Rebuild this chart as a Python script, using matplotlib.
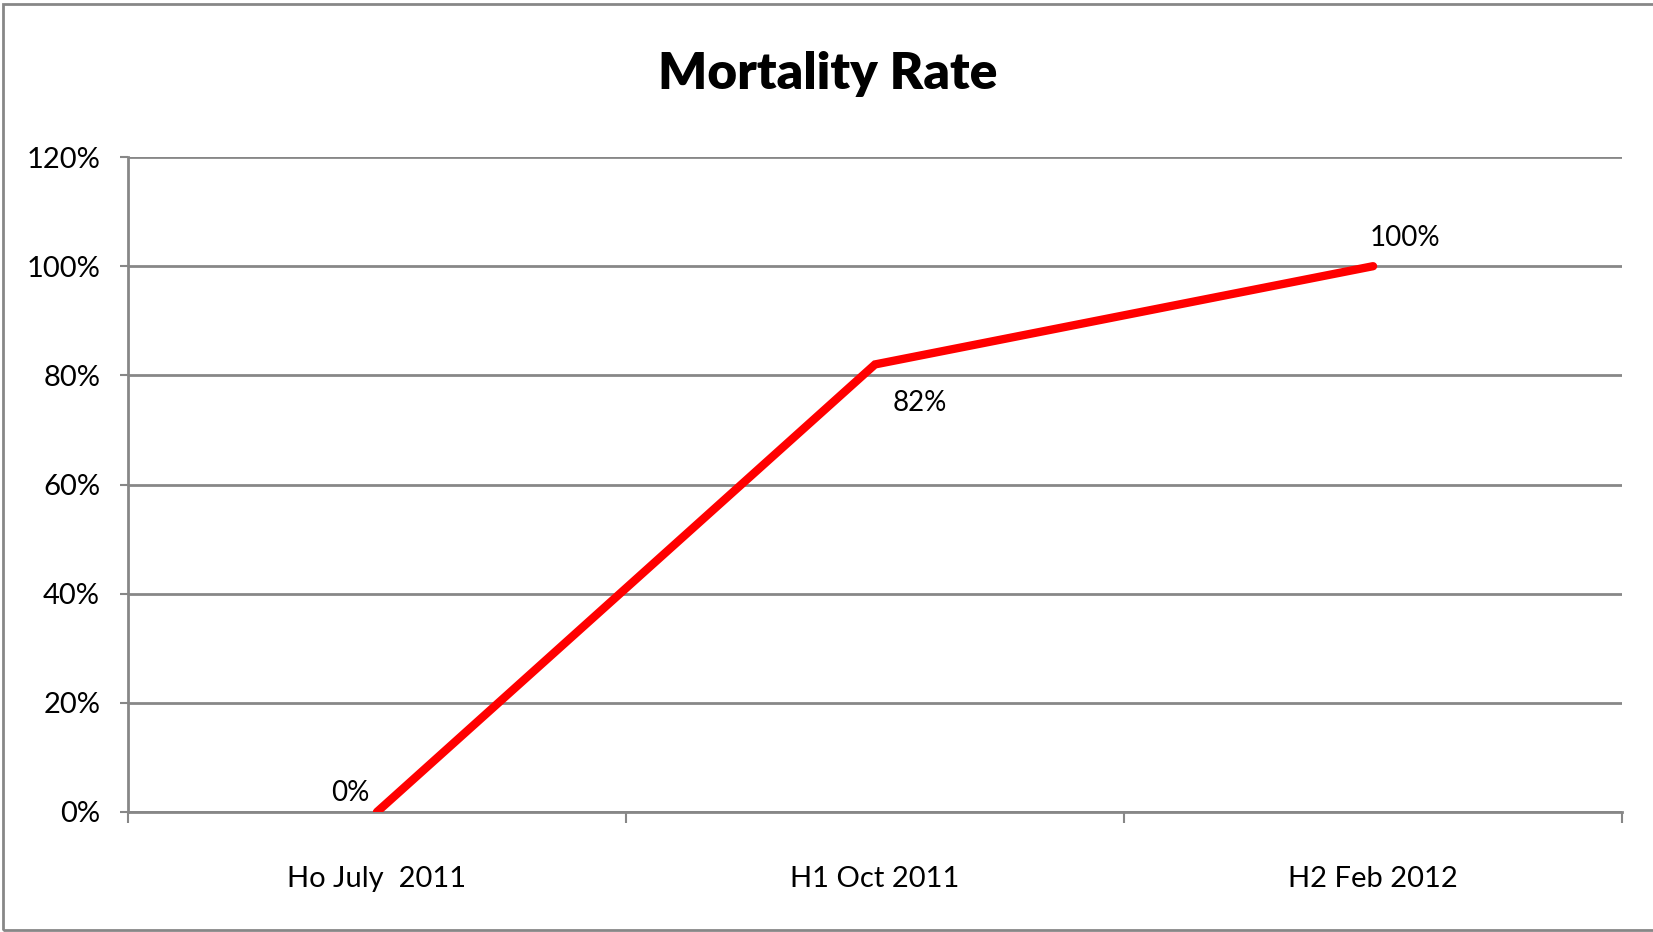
import matplotlib.pyplot as plt
from matplotlib.patches import Rectangle
from matplotlib.ticker import FixedLocator, FuncFormatter

categories = ["Ho July  2011", "H1 Oct 2011", "H2 Feb 2012"]
mortality = [0, 82, 100]
label_offsets = [(-19, 14), (32, -28), (23, 20)]  # points, per data label
yticks = [0, 20, 40, 60, 80, 100, 120]

plt.rcParams['font.family'] = ['Lato', 'DejaVu Sans']
grey = "#878787"

fig = plt.figure(figsize=(16.53, 9.32), dpi=100)
ax = fig.add_axes([0.0774, 0.1288, 0.9039, 0.7027])

xs = [i + 0.5 for i in range(len(categories))]
ax.plot(xs, mortality, color="#ff0000", lw=6, solid_capstyle="round",
        solid_joinstyle="miter", zorder=3)

for x, v, off in zip(xs, mortality, label_offsets):
    ax.annotate(f"{v}%", (x, v), xytext=off, textcoords="offset points",
                ha="center", va="center", fontsize=20, color="black")

ax.set_xlim(0, len(categories))
ax.set_ylim(0, 120)
ax.set_yticks(yticks)
ax.yaxis.set_major_formatter(FuncFormatter(lambda v, p: f"{v:.0f}%"))
ax.tick_params(axis="y", length=6, width=1.5, color=grey, pad=14,
               labelsize=21)
ax.yaxis.grid(True, color=grey, lw=2)
ax.set_axisbelow(True)

ax.xaxis.set_major_locator(FixedLocator(range(len(categories) + 1)))
ax.xaxis.set_minor_locator(FixedLocator(xs))
ax.set_xticklabels([], minor=False)
ax.set_xticklabels(categories, minor=True)
ax.tick_params(axis="x", which="major", length=8, width=1.5, color=grey,
               direction="out")
ax.tick_params(axis="x", which="minor", length=0, pad=39, labelsize=21)

for s in ["top", "right"]:
    ax.spines[s].set_visible(False)
for s in ["left", "bottom"]:
    ax.spines[s].set_color(grey)
    ax.spines[s].set_linewidth(2)

fig.text(0.501, 0.9045, "Mortality Rate", ha="center", va="baseline",
         fontsize=37, fontweight="heavy", color="black")

fig.patches.append(Rectangle((0.002, 0.002), 1.1, 0.994, transform=fig.transFigure,
                             fill=False, edgecolor=grey, lw=2))

fig.savefig("out.png", dpi=100, facecolor="white")
